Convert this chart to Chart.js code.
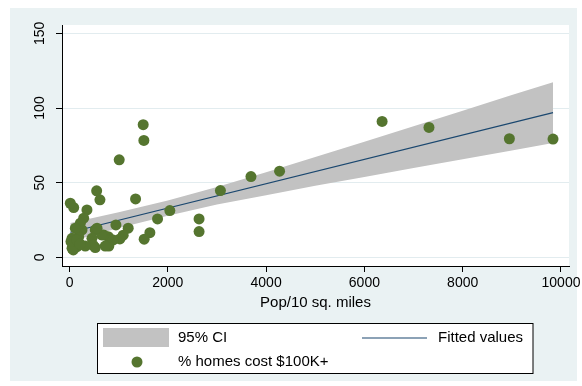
<!DOCTYPE html>
<html>
<head>
<meta charset="utf-8">
<script src="https://cdn.jsdelivr.net/npm/chart.js@4.4.1/dist/chart.umd.min.js"></script>
<style>
  html, body { margin: 0; padding: 0; background: #fff; }
  #wrap { width: 582px; height: 386px; }
</style>
</head>
<body>
<div id="wrap"><canvas id="grafico" width="582" height="386"></canvas></div>
<script>
// scatter: population per 10 sq. miles vs % of homes costing $100K+
const popDensity = [9838, 8950, 7314, 6360, 4274, 3692, 3070, 2636, 2636, 2041,
                    1791, 1635, 1519, 1513, 1499, 1344, 1194, 1092, 1011, 944,
                    1025, 889, 788, 800, 727, 694, 619, 552, 524, 524,
                    457, 483, 355, 321, 288, 254, 220, 186, 152, 118,
                    85, 16, 51, 51, 77, 30, 146, 213, 653, 560];
const pctHomes   = [79.2, 79.4, 87, 91, 57.7, 54.1, 44.7, 25.7, 17.2, 31.3,
                    25.7, 16.5, 12.1, 78.3, 88.8, 39.1, 19.5, 14.8, 65.3, 21.7,
                    12.3, 11.6, 13.8, 7.5, 7.5, 15, 38.5, 44.5, 18.3, 6.5,
                    12.7, 8, 31.7, 7.5, 26.2, 18.3, 22.8, 13.8, 7.1, 19.5,
                    33.3, 36.2, 12.7, 6, 4.9, 10.5, 11.6, 8.9, 15, 19.5];

// fitted line and 95% CI band
const fitX    = [16, 9838];
const fitY    = [16.8, 96.9];
const ciX     = [16, 1000, 2000, 3000, 4000, 5000, 6000, 7000, 8000, 9000, 9838];
const ciLower = [10.6, 19.6, 27.9, 35.3, 41.6, 47.9, 53.8, 59.8, 65.6, 71.5, 76.5];
const ciUpper = [23.0, 30.2, 38.1, 47.1, 57.0, 67.1, 77.4, 87.8, 98.2, 108.7, 117.3];

const xTicks = [0, 2000, 4000, 6000, 8000, 10000];
const yTicks = [0, 50, 100, 150];

const FONT = "'Liberation Sans', Arial, Helvetica, sans-serif";
const GREEN = '#55752f';
const NAVY = '#1a476f';
const BAND = '#c2c2c2';

const toPts = (xs, ys) => xs.map((x, i) => ({ x: x, y: ys[i] }));

const stataLook = {
    id: 'stataLook',
    beforeDraw(chart) {
        const c = chart.ctx, a = chart.chartArea;
        c.save();
        c.fillStyle = '#ffffff';
        c.fillRect(0, 0, chart.width, chart.height);
        c.fillStyle = '#eaf2f3';
        c.fillRect(10, 8, 567, 373);
        c.fillStyle = '#ffffff';
        c.fillRect(a.left, a.top, a.right - a.left, a.bottom - a.top);
        c.restore();
    },
    afterDraw(chart) {
        const c = chart.ctx;
        const ys = chart.scales.y;
        c.save();
        // rotated y tick labels
        c.fillStyle = '#000';
        c.font = '14px ' + FONT;
        c.textAlign = 'center';
        c.textBaseline = 'middle';
        ys.ticks.forEach(t => {
            c.save();
            c.translate(40, ys.getPixelForValue(t.value));
            c.rotate(-Math.PI / 2);
            c.fillText(String(t.value), 0, 0);
            c.restore();
        });

        // legend box
        const ds = chart.data.datasets;
        c.fillStyle = '#fff';
        c.fillRect(97.5, 323.5, 435.5, 50);
        c.strokeStyle = '#000';
        c.lineWidth = 1;
        c.strokeRect(97.5, 323.5, 435.5, 50);

        c.font = '15px ' + FONT;
        c.textAlign = 'left';
        c.fillStyle = ds[3].backgroundColor;
        c.fillRect(103, 328, 66, 19);
        c.fillStyle = '#000';
        c.fillText(ds[3].label, 178, 338);

        c.strokeStyle = ds[1].borderColor;
        c.lineWidth = 1.2;
        c.beginPath();
        c.moveTo(362, 338);
        c.lineTo(427, 338);
        c.stroke();
        c.fillText(ds[1].label, 438, 338);

        c.fillStyle = ds[0].backgroundColor;
        c.beginPath();
        c.arc(137, 362, 5.5, 0, Math.PI * 2);
        c.fill();
        c.fillStyle = '#000';
        c.fillText(ds[0].label, 178, 362);
        c.restore();
    }
};

const ctx = document.getElementById('grafico').getContext('2d');

const grafico = new Chart(ctx, {
    type: 'scatter',
    data: {
        datasets: [{
            label: '% homes cost $100K+',
            data: toPts(popDensity, pctHomes),
            backgroundColor: GREEN,
            borderWidth: 0,
            pointRadius: 5.5,
            order: 0
        }, {
            label: 'Fitted values',
            data: toPts(fitX, fitY),
            showLine: true,
            borderColor: NAVY,
            borderWidth: 1.2,
            pointRadius: 0,
            order: 1
        }, {
            label: 'CI lower',
            data: toPts(ciX, ciLower),
            showLine: true,
            borderWidth: 0,
            borderColor: 'rgba(0,0,0,0)',
            pointRadius: 0,
            order: 3
        }, {
            label: '95% CI',
            data: toPts(ciX, ciUpper),
            showLine: true,
            borderWidth: 0,
            borderColor: 'rgba(0,0,0,0)',
            backgroundColor: BAND,
            fill: 2,
            pointRadius: 0,
            order: 2
        }]
    },
    options: {
        responsive: false,
        animation: false,
        devicePixelRatio: 1,
        layout: { padding: { left: 10, top: 25, right: 13, bottom: 74 } },
        plugins: {
            legend: { display: false },
            tooltip: { enabled: false }
        },
        scales: {
            x: {
                type: 'linear',
                min: -153,
                max: 10163,
                afterBuildTicks: (s) => { s.ticks = xTicks.map(v => ({ value: v })); },
                afterFit: (s) => { s.height = 46; s.paddingLeft = 0; s.paddingRight = 0; },
                grid: { drawOnChartArea: false, drawTicks: true, tickLength: 6, tickColor: '#000' },
                border: { display: true, color: '#000', width: 1 },
                ticks: {
                    color: '#000',
                    font: { family: FONT, size: 14 },
                    padding: 3,
                    maxRotation: 0,
                    autoSkip: false,
                    callback: (v) => String(v)
                },
                title: {
                    display: true,
                    text: 'Pop/10 sq. miles',
                    color: '#000',
                    font: { family: FONT, size: 15 },
                    padding: 0
                }
            },
            y: {
                type: 'linear',
                min: -5.83,
                max: 155.6,
                afterBuildTicks: (s) => { s.ticks = yTicks.map(v => ({ value: v })); },
                afterFit: (s) => { s.width = 52; s.paddingTop = 0; s.paddingBottom = 0; },
                grid: { color: '#e2ecef', lineWidth: 1, drawTicks: true, tickLength: 6, tickColor: '#000' },
                border: { display: true, color: '#000', width: 1 },
                ticks: { display: false }
            }
        }
    },
    plugins: [stataLook]
});
</script>
</body>
</html>
